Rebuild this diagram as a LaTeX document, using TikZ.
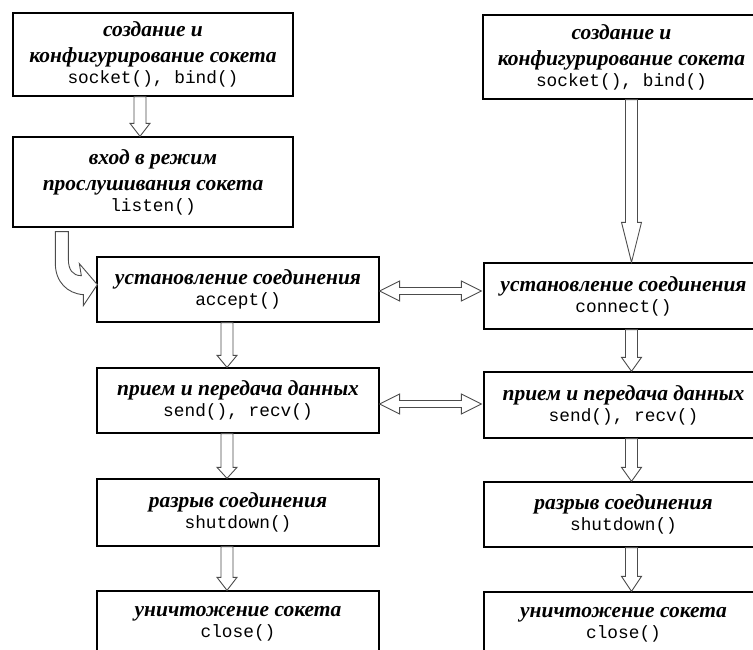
\documentclass[tikz,border=0pt]{standalone}
\usepackage{fontspec}
\setmainfont{Liberation Serif}
\setmonofont{Liberation Mono}
\usetikzlibrary{calc}
\newcommand\rutext{\fontsize{21.5}{26}\selectfont\bfseries\itshape}
\newcommand\cde[1]{{\fontsize{17.8}{19}\selectfont\mdseries\upshape\ttfamily #1}}
\tikzset{
  box/.style={draw, line width=1.3pt, align=center, inner sep=2pt, font=\rutext},
  harrow/.style={draw=black!70, fill=white, line width=0.9pt, line join=miter},
}
\newcommand\varrow[4]{%
  \draw[harrow] let \p1=($(#1.south)+(#3,0)$), \p2=(#2.north) in
  (\x1-6pt,\y1) -- (\x1-6pt,\y2+#4) -- (\x1-10pt,\y2+#4) -- (\x1,\y2) --
  (\x1+10pt,\y2+#4) -- (\x1+6pt,\y2+#4) -- (\x1+6pt,\y1) -- cycle;}
\newcommand\harr[3]{%
  \draw[harrow] let \p1=($(#1.east)+(0,#3)$), \p2=($(#2.west)+(-2,0)$) in
  (\x1,\y1) -- (\x1+20pt,\y1+10pt) -- (\x1+20pt,\y1+3.5pt) -- (\x2-20pt,\y1+3.5pt) --
  (\x2-20pt,\y1+10pt) -- (\x2,\y1) -- (\x2-20pt,\y1-10pt) -- (\x2-20pt,\y1-3.5pt) --
  (\x1+20pt,\y1-3.5pt) -- (\x1+20pt,\y1-10pt) -- cycle;}
\begin{document}
\begin{tikzpicture}[x=1pt,y=-1pt]
\useasboundingbox (0,0) rectangle (753,650);
\clip (0,0) rectangle (753,650);
% left column
\node[box, minimum width=280pt, minimum height=83pt] (L1) at (153,54.5)
  {создание и\\конфигурирование сокета\\[-5pt]\cde{socket(), bind()}};
\node[box, minimum width=280pt, minimum height=90pt] (L2) at (153,182)
  {вход в режим\\прослушивания сокета\\[-5pt]\cde{listen()}};
\node[box, minimum width=282pt, minimum height=65pt] (L3) at (238,289.5)
  {установление соединения\\[-5pt]\cde{accept()}};
\node[box, minimum width=282pt, minimum height=65pt] (L4) at (238,400.5)
  {прием и передача данных\\[-5pt]\cde{send(), recv()}};
\node[box, minimum width=282pt, minimum height=67pt] (L5) at (238,512.5)
  {разрыв соединения\\[-5pt]\cde{shutdown()}};
\node[box, minimum width=282pt, minimum height=66pt] (L6) at (238,624)
  {уничтожение сокета\\[-5pt]\cde{close()}};
% right column
\node[box, minimum width=277pt, minimum height=84pt] (R1) at (621.5,57)
  {создание и\\конфигурирование сокета\\[-5pt]\cde{socket(), bind()}};
\node[box, minimum width=279pt, minimum height=66pt] (R2) at (623.5,296)
  {установление соединения\\[-5pt]\cde{connect()}};
\node[box, minimum width=279pt, minimum height=66pt] (R3) at (623.5,405)
  {прием и передача данных\\[-5pt]\cde{send(), recv()}};
\node[box, minimum width=279pt, minimum height=65pt] (R4) at (623.5,514.5)
  {разрыв соединения\\[-5pt]\cde{shutdown()}};
\node[box, minimum width=279pt, minimum height=66pt] (R5) at (623.5,625)
  {уничтожение сокета\\[-5pt]\cde{close()}};
% vertical arrows
\varrow{L1}{L2}{-13}{13pt}
\varrow{L3}{L4}{-11}{12pt}
\varrow{L4}{L5}{-11}{11pt}
\varrow{L5}{L6}{-11}{13pt}
\varrow{R1}{R2}{10}{40pt}
\varrow{R2}{R3}{8}{14pt}
\varrow{R3}{R4}{8}{14pt}
\varrow{R4}{R5}{8}{15pt}
% horizontal double arrows
\harr{L3}{R2}{1.5}
\harr{L4}{R3}{3.5}
% curved arrow from L2 to L3
\begin{scope}[shift={(L2.south west)}]
\draw[harrow] (43,4) -- (56,4) -- (56,31) .. controls (56,42) and (60,48) .. (69,48)
  -- (67,36) -- (85,57) -- (71,78) -- (71,67)
  .. controls (55,66) and (43,54) .. (43,36) -- cycle;
\end{scope}
\end{tikzpicture}
\end{document}
